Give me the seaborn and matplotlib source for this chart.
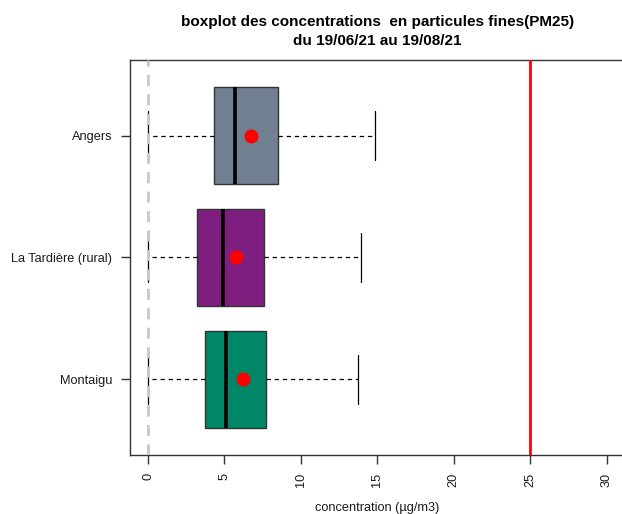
import matplotlib
matplotlib.use("Agg")
import matplotlib.pyplot as plt
import seaborn as sns
import pandas as pd

# Data (µg/m3)
sites = ["Angers", "La Tardière (rural)", "Montaigu"]
whisker_low = [0.0, 0.0, 0.0]
q1 = [4.32, 3.19, 3.75]
median = [5.69, 4.89, 5.10]
q3 = [8.51, 7.59, 7.72]
whisker_high = [14.86, 13.96, 13.70]
means = [6.74, 5.76, 6.20]
colors = ["#708090", "#7E1F80", "#008768"]
xticks = [0, 5, 10, 15, 20, 25, 30]
limit_value = 25

rows = []
for i, s in enumerate(sites):
    for v in (whisker_low[i], q1[i], median[i], q3[i], whisker_high[i]):
        rows.append({"site": s, "value": v})
df = pd.DataFrame(rows)
df_mean = pd.DataFrame({"site": sites, "mean": means})

sns.set_theme(style="white")
plt.rcParams["font.family"] = ["Liberation Sans", "DejaVu Sans"]

fig = plt.figure(figsize=(6.22, 5.14), dpi=100)
ax = fig.add_axes([0.2085, 0.1148, 0.7965, 0.7685])

sns.boxplot(
    data=df, x="value", y="site", hue="site", order=sites, hue_order=sites,
    palette=colors, saturation=1, width=0.8, whis=(0, 100), legend=False,
    linecolor="#333333", linewidth=1.0, ax=ax,
    medianprops=dict(color="black", linewidth=2.6),
    whiskerprops=dict(color="black", linestyle=(0, (3.5, 3)), linewidth=0.9),
    capprops=dict(color="black", linewidth=0.9),
    boxprops=dict(edgecolor="#333333", linewidth=1.0),
)

ax.axvline(0, color="#c8c8c8", linewidth=2, linestyle=(0, (4, 3)), zorder=4)
ax.axvline(limit_value, color="red", linewidth=2, zorder=4)

sns.pointplot(
    data=df_mean, x="mean", y="site", order=sites, color="red",
    linestyle="none", marker="o", markersize=8, errorbar=None, ax=ax,
    zorder=6,
)

ax.set_xlim(-1.2, 31.2)
ax.set_ylim(2.62, -0.62)
ax.set_xticks(xticks)
ax.set_xticklabels([str(t) for t in xticks], rotation=90, fontsize=9.2)
ax.set_yticks(range(len(sites)))
ax.set_yticklabels(sites, fontsize=9.2)
ax.tick_params(axis="both", which="major", direction="out", length=6.5, width=1.0,
               color="#333333", labelcolor="#1a1a1a",
               left=True, bottom=True)
ax.tick_params(axis="y", pad=6)
ax.tick_params(axis="x", pad=6.5)
for sp in ax.spines.values():
    sp.set_visible(True)
    sp.set_color("#333333")
    sp.set_linewidth(1.0)
ax.set_ylabel("")
ax.set_xlabel("concentration (µg/m3)", fontsize=9.2, labelpad=10.5, color="#1a1a1a")
ax.set_title("boxplot des concentrations  en particules fines(PM25)\ndu 19/06/21 au 19/08/21",
             fontsize=11, fontweight="bold", pad=10.5, linespacing=1.45, color="black")

fig.savefig("out.png", dpi=100)
